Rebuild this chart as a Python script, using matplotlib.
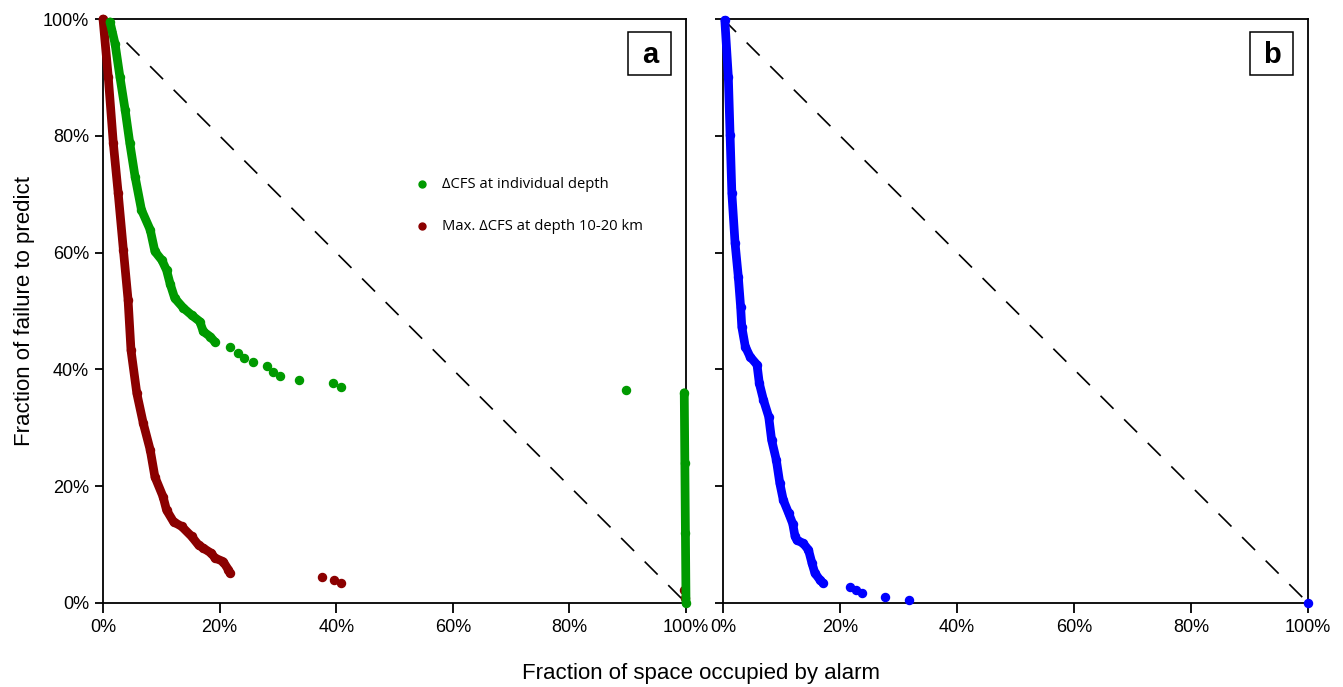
import matplotlib.pyplot as plt
from matplotlib.patches import Rectangle

plt.rcParams['font.family'] = ['Liberation Sans', 'DejaVu Sans']

# panel a: green = dCFS at individual depth, red = max dCFS at 10-20 km
green_dense_x = [1.2, 2.06, 2.9, 3.8, 4.6, 5.5, 6.6, 8.1, 8.9, 10.1, 10.9, 11.5, 12.3,
                 13.8, 15.2, 16.6, 17.2, 18.4, 19.2]
green_dense_y = [99.5, 95.8, 90.1, 84.4, 78.7, 73.0, 67.3, 63.9, 60.2, 58.7, 57.0, 54.7,
                 52.2, 50.5, 49.3, 48.2, 46.5, 45.6, 44.7]
green_tail_x = [21.8, 23.2, 24.1, 25.8, 28.1, 29.2, 30.4, 33.6, 39.5, 40.8, 89.7]
green_tail_y = [43.9, 42.8, 41.9, 41.2, 40.6, 39.6, 38.8, 38.2, 37.7, 37.0, 36.5]
green_edge_x = [99.7, 99.8, 99.9, 100.0]
green_edge_y = [36.0, 24.0, 12.0, 0.0]

red_dense_x = [0.0, 0.9, 1.77, 2.6, 3.5, 4.3, 4.8, 5.8, 6.9, 8.1, 8.9, 10.3, 10.9, 12.1,
               13.5, 15.2, 16.4, 17.2, 18.6, 19.2, 20.6, 21.5, 21.8]
red_dense_y = [100.0, 90.1, 78.7, 70.2, 60.4, 51.9, 43.3, 35.9, 30.8, 26.2, 21.6, 18.2,
               15.9, 13.9, 13.1, 11.4, 9.9, 9.4, 8.5, 7.7, 7.1, 5.7, 5.1]
red_tail_x = [37.6, 39.6, 40.8, 99.6, 99.8]
red_tail_y = [4.5, 3.9, 3.4, 2.2, 0.8]

# panel b: blue
blue_dense_x = [0.3, 0.9, 1.2, 1.5, 2.05, 2.6, 3.0, 3.2, 3.8, 4.6, 5.8, 6.2, 6.9, 7.8,
                8.3, 9.1, 9.7, 10.3, 11.2, 11.9, 12.3, 12.6, 13.7, 14.6, 15.2, 15.7,
                16.6, 17.1]
blue_dense_y = [99.8, 90.1, 80.1, 70.2, 61.6, 55.9, 50.7, 47.3, 43.9, 42.2, 40.8, 37.6,
                34.8, 31.9, 27.9, 24.5, 20.5, 17.6, 15.4, 13.6, 11.4, 10.8, 10.2, 9.1,
                6.8, 5.1, 3.9, 3.4]
blue_tail_x = [21.7, 22.8, 23.8, 27.7, 31.7, 100.0]
blue_tail_y = [2.8, 2.2, 1.7, 1.1, 0.5, 0.0]

ticks = [0, 20, 40, 60, 80, 100]
tick_labels = ['0%', '20%', '40%', '60%', '80%', '100%']

green = '#009a00'
red = '#8b0000'
blue = '#0000ff'
ms = 5.8

fig = plt.figure(figsize=(13.43, 6.87), dpi=100)
ax_a = fig.add_axes([0.0767, 0.1223, 0.4341, 0.85])
ax_b = fig.add_axes([0.5384, 0.1223, 0.4356, 0.85])


def dense(ax, x, y, c):
    ax.plot(x, y, '-o', color=c, lw=6.3, ms=ms, solid_capstyle='round',
            solid_joinstyle='round', clip_on=False, zorder=3)


def sparse(ax, x, y, c):
    ax.plot(x, y, 'o', color=c, ms=ms, lw=0, clip_on=False, zorder=3)


for ax, letter in [(ax_a, 'a'), (ax_b, 'b')]:
    ax.plot([0, 100], [100, 0], color='black', lw=1.2, dashes=(11, 9), zorder=2)
    ax.set_xlim(0, 100)
    ax.set_ylim(0, 100)
    ax.set_xticks(ticks)
    ax.set_yticks(ticks)
    ax.set_xticklabels(tick_labels, fontsize=13)
    ax.tick_params(axis='x', direction='out', length=7.5, width=1.3, pad=4)
    ax.tick_params(axis='y', direction='out', length=6, width=1.3, pad=4)
    for s in ax.spines.values():
        s.set_linewidth(1.3)
    ax.add_patch(Rectangle((0.901, 0.904), 0.074, 0.074, transform=ax.transAxes,
                           facecolor='white', edgecolor='black', lw=1.1, zorder=4))
    ax.text(0.938, 0.939, letter, transform=ax.transAxes, ha='center', va='center',
            fontsize=21, fontweight='bold', zorder=5)

ax_a.set_yticklabels(tick_labels, fontsize=13)
ax_b.set_yticklabels([])

dense(ax_a, red_dense_x, red_dense_y, red)
sparse(ax_a, red_tail_x, red_tail_y, red)
dense(ax_a, green_dense_x, green_dense_y, green)
sparse(ax_a, green_tail_x, green_tail_y, green)
dense(ax_a, green_edge_x, green_edge_y, green)

dense(ax_b, blue_dense_x, blue_dense_y, blue)
sparse(ax_b, blue_tail_x, blue_tail_y, blue)

# legend drawn as in the original: dot + text
ax_a.plot([54.8], [71.7], 'o', color=green, ms=5)
ax_a.text(58.2, 71.7, '\u0394CFS at individual depth', fontsize=10.6, va='center',
          family=['Open Sans', 'DejaVu Sans'])
ax_a.plot([54.8], [64.5], 'o', color=red, ms=5)
ax_a.text(58.2, 64.5, 'Max. \u0394CFS at depth 10-20 km', fontsize=10.6, va='center',
          family=['Open Sans', 'DejaVu Sans'])

ax_a.set_ylabel('Fraction of failure to predict', fontsize=16, labelpad=6)
fig.text(0.522, 0.02, 'Fraction of space occupied by alarm', ha='center', va='center',
         fontsize=16)

fig.savefig('out.png', dpi=100)
